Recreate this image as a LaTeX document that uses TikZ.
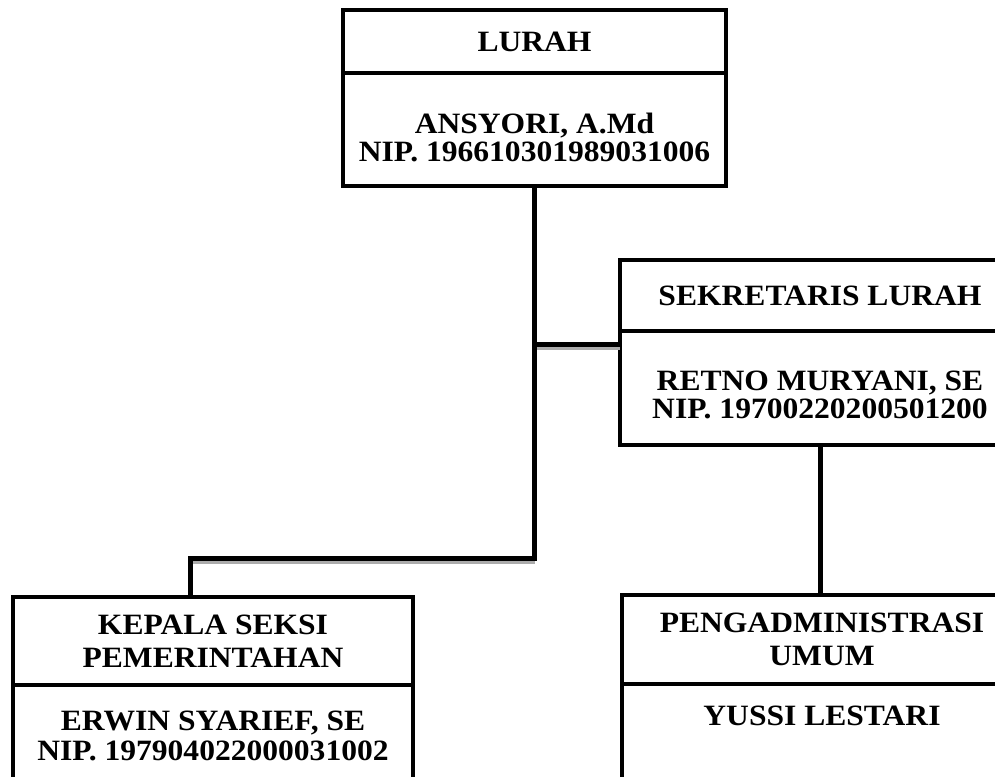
\documentclass[tikz,border=0pt]{standalone}
\usepackage{fontspec}
\setmainfont{Liberation Serif}[FakeStretch=1.07]
\usepackage{tikz}

\begin{document}
\begin{tikzpicture}
			[x=1pt,y=-1pt,
			box/.style={draw,line width=4.5pt,outer sep=0pt,inner sep=0pt,anchor=north west,align=center,
				font=\bfseries\fontsize{29.5}{28}\selectfont},
			link/.style={line width=5pt},
			shade/.style={line width=3.5pt,gray!65}]
			\useasboundingbox (0,0) rectangle (995,776);
			\clip (0,0) rectangle (995,776);
			
			\node[box,minimum width=383pt,minimum height=63pt] (lurah) at (343,10) {LURAH};
			\node[box,minimum width=383pt,minimum height=113pt,text height=64pt] (ansyori) at (343,73) {ANSYORI, A.Md\\NIP. 196610301989031006};
			\node[box,minimum width=400pt,minimum height=71pt] (sekretaris) at (620,260) {SEKRETARIS LURAH};
			\node[box,minimum width=400pt,minimum height=114pt,text height=62pt] (retno) at (620,331) {RETNO MURYANI, SE\\NIP. 19700220200501200};
			\node[box,minimum width=400pt,minimum height=88pt,font=\bfseries\fontsize{29.5}{33}\selectfont] (kasi) at (13,597) {KEPALA SEKSI\\PEMERINTAHAN};
			\node[box,minimum width=400pt,minimum height=113pt,font=\bfseries\fontsize{29.5}{30}\selectfont,text depth=12pt] (erwin) at (13,685) {ERWIN SYARIEF, SE\\NIP. 197904022000031002};
			\node[box,minimum width=400pt,minimum height=89pt,font=\bfseries\fontsize{29.5}{33}\selectfont] (umum) at (622,595) {PENGADMINISTRASI\\UMUM};
			\node[box,minimum width=400pt,minimum height=113pt,text depth=50pt] (yussi) at (622,684) {YUSSI LESTARI};
			
			\coordinate (branch) at ([yshift=-13pt]retno.north west);
			\coordinate (elbow) at (190,558);
			\coordinate (branchshade) at ([yshift=-4pt]branch);
			\coordinate (elbowshade) at ([yshift=-4pt]elbow);
			
			\draw[shade] (branchshade -| ansyori.south) -- (branchshade);
			\draw[shade] (elbowshade) -- (elbowshade -| ansyori.south);
			\draw[link] (ansyori.south) |- (elbow) -- (elbow |- kasi.north);
			\draw[link] (branch -| ansyori.south) -- (branch);
			\draw[link] (retno.south) -- (retno.south |- umum.north);
			\end{tikzpicture}
\end{document}
